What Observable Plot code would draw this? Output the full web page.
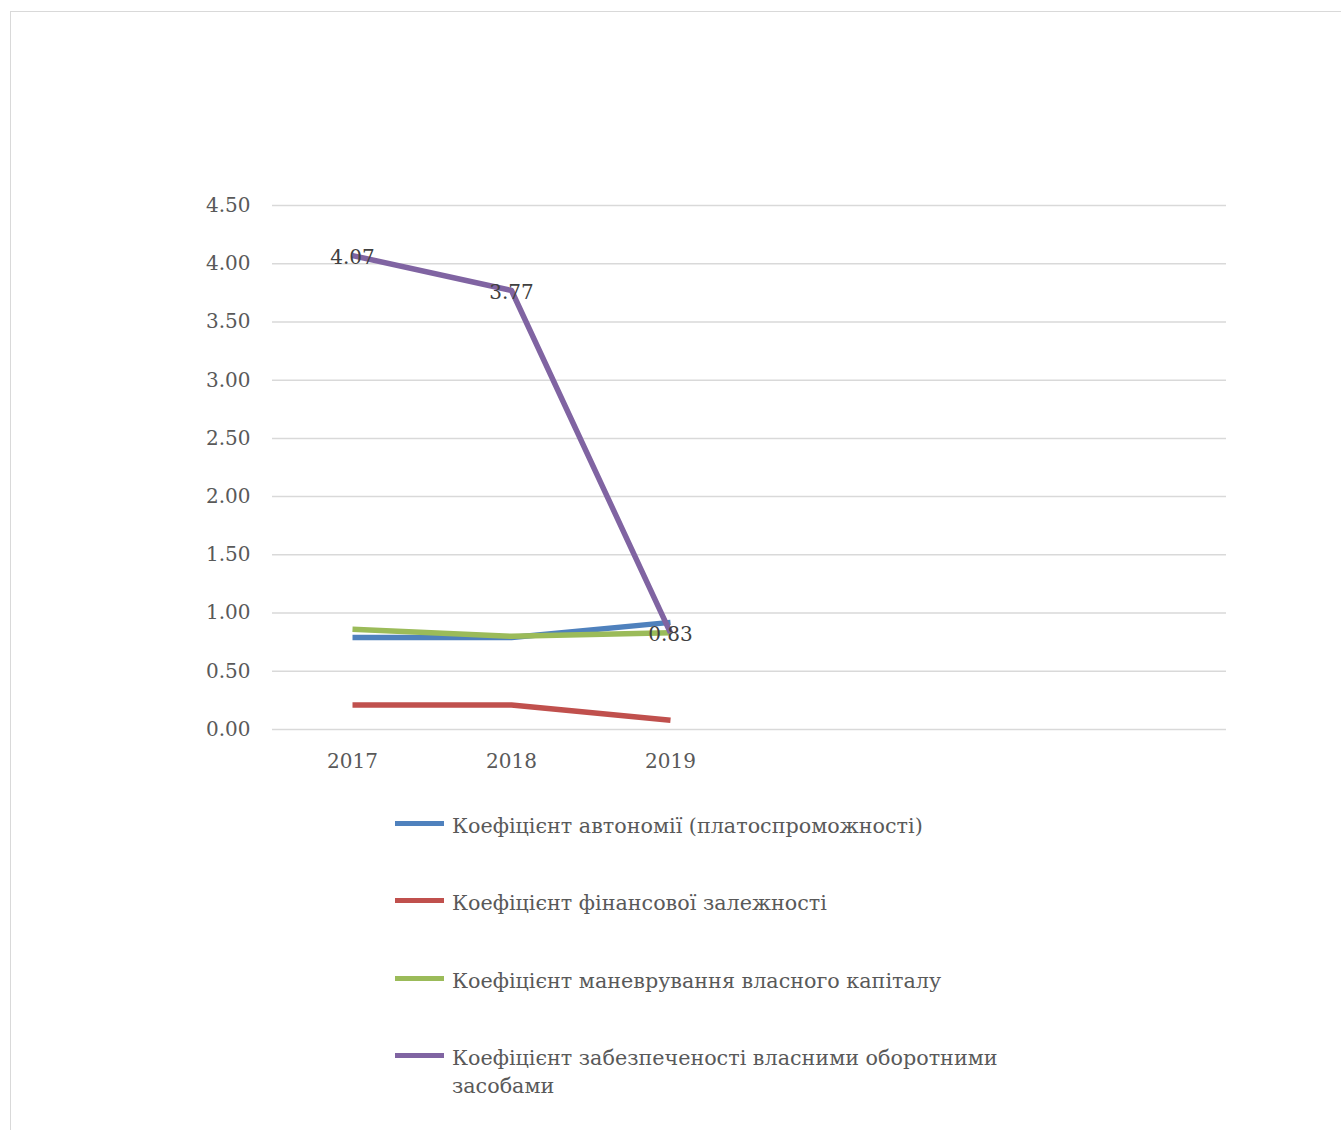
<!DOCTYPE html>
<html>
<head>
<meta charset="utf-8">
<script src="https://cdn.jsdelivr.net/npm/d3@7"></script>
<script src="https://cdn.jsdelivr.net/npm/@observablehq/plot@0.6"></script>
<style>
  html, body { margin: 0; padding: 0; background: #fff; overflow: hidden; width: 1341px; height: 1130px; }
  #frame { position: absolute; left: 10px; top: 11px; width: 1400px; height: 1200px; border: 1.5px solid #d9d9d9; box-sizing: border-box; }
  #chart { position: absolute; left: 0; top: 0; }
  #legend { position: absolute; left: 0; top: 0; width: 1341px; font-family: "DejaVu Serif", serif; font-size: 20.7px; color: #595959; }
  .item { position: absolute; left: 395px; width: 660px; display: flex; align-items: flex-start; }
  .swatch { width: 49px; height: 5px; margin-right: 8px; flex: none; }
  .label { width: 560px; flex: none; line-height: 28px; }
</style>
</head>
<body>
<div id="frame"></div>
<div id="chart"></div>
<div id="legend"></div>
<script>
const years = ["2017", "2018", "2019"];
const emptySlots = ["", " ", "  "];
const seriesNames = [
  "Коефіцієнт автономії (платоспроможності)",
  "Коефіцієнт фінансової залежності",
  "Коефіцієнт маневрування власного капіталу",
  "Коефіцієнт забезпеченості власними оборотними засобами"
];
const autonomy = [0.79, 0.79, 0.92];
const financialDependence = [0.21, 0.21, 0.08];
const maneuverability = [0.86, 0.80, 0.83];
const workingCapital = [4.07, 3.77, 0.83];
const colors = ["#4f81bd", "#c0504d", "#9bbb59", "#8064a2"];
const yTicks = [0, 0.5, 1, 1.5, 2, 2.5, 3, 3.5, 4, 4.5];

const allSeries = [autonomy, financialDependence, maneuverability, workingCapital];
const rows = [];
allSeries.forEach((vals, si) => vals.forEach((v, i) => rows.push({series: seriesNames[si], year: years[i], value: v})));
const labelRows = workingCapital.map((v, i) => ({year: years[i], value: v}));

const chart = Plot.plot({
  width: 1341,
  height: 790,
  marginLeft: 272,
  marginRight: 115,
  marginTop: 205,
  marginBottom: 61,
  style: {fontFamily: "DejaVu Serif, serif", fontSize: "20px", color: "#595959", background: "transparent"},
  x: {type: "point", domain: [...years, ...emptySlots], padding: 0.5, label: null, tickSize: 0, tickPadding: 24},
  y: {domain: [0, 4.5], ticks: yTicks, tickFormat: d3.format(".2f"), label: null, tickSize: 0, tickPadding: 22},
  color: {domain: seriesNames, range: colors},
  marks: [
    Plot.gridY(yTicks, {stroke: "#d9d9d9", strokeOpacity: 1, strokeWidth: 1.5}),
    Plot.line(rows, {x: "year", y: "value", z: "series", stroke: "series", strokeWidth: 5.5, strokeLinejoin: "round", strokeLinecap: "butt"}),
    Plot.text(labelRows, {x: "year", y: "value", text: d => d.value.toFixed(2), fill: "#404040", fontSize: 20, dy: 2})
  ]
});
document.getElementById("chart").appendChild(chart);

const legend = document.getElementById("legend");
const legendTops = [812, 889, 967, 1044];
seriesNames.forEach((name, i) => {
  const item = document.createElement("div");
  item.className = "item";
  item.style.top = legendTops[i] + "px";
  const sw = document.createElement("div");
  sw.className = "swatch";
  sw.style.background = colors[i];
  sw.style.marginTop = "9px";
  const lab = document.createElement("div");
  lab.className = "label";
  lab.textContent = name;
  item.appendChild(sw);
  item.appendChild(lab);
  legend.appendChild(item);
});
</script>
</body>
</html>
